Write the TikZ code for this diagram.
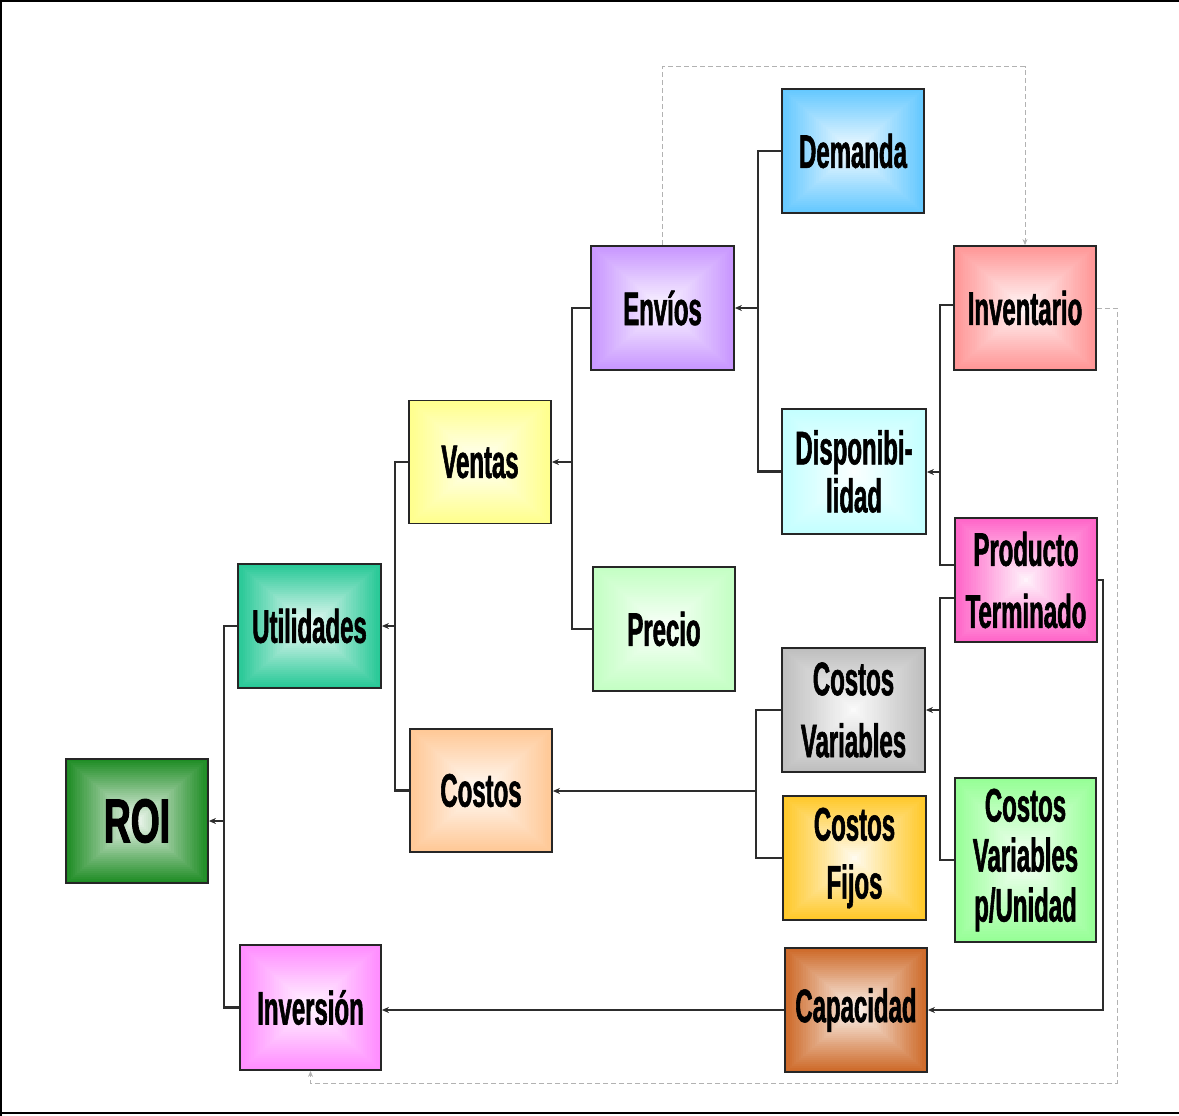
\documentclass[tikz,border=0pt]{standalone}
\usepackage{fontspec}
\newfontfamily\boxfont{Liberation Sans}[FakeStretch=0.51,FakeBold=1.2]
\newfontfamily\roifont{Liberation Sans}[FakeStretch=0.6,FakeBold=1.6]
\usetikzlibrary{arrows.meta,calc}

\definecolor{cRoi}{RGB}{30,140,36}
\definecolor{cUtil}{RGB}{38,200,150}
\definecolor{cVentas}{RGB}{255,255,140}
\definecolor{cCostos}{RGB}{255,200,150}
\definecolor{cInv}{RGB}{255,140,255}
\definecolor{cEnvios}{RGB}{200,150,255}
\definecolor{cPrecio}{RGB}{195,255,195}
\definecolor{cDemanda}{RGB}{100,200,255}
\definecolor{cDispon}{RGB}{195,255,255}
\definecolor{cCVar}{RGB}{190,190,190}
\definecolor{cCFij}{RGB}{255,200,40}
\definecolor{cCapac}{RGB}{205,105,40}
\definecolor{cInvent}{RGB}{255,150,150}
\definecolor{cProd}{RGB}{255,100,200}
\definecolor{cCVpU}{RGB}{150,255,150}
\definecolor{linegray}{RGB}{45,45,45}

\tikzset{
  box/.style={rectangle, draw=black!85, line width=1.8pt,
    minimum width=142pt, minimum height=124pt, inner sep=0pt,
    align=center, text=black,
    font=\boxfont\bfseries\fontsize{47}{62}\selectfont},
  % box filled with a rectangular gradient: colour at the rim, almost white in the middle
  gbox/.style={box, fill=#1,
    path picture={
      \foreach \k in {1,...,30}{
        \pgfmathsetmacro\f{\k/62}
        \pgfmathtruncatemacro\p{\k*92/30}
        \fill[white!\p!#1]
          ($(path picture bounding box.south west)!\f!(path picture bounding box.north east)$)
          rectangle
          ($(path picture bounding box.north east)!\f!(path picture bounding box.south west)$);
      }
    }},
  conn/.style={draw=linegray, line width=2.3pt},
  arr/.style={conn, -{Stealth[length=7pt,width=6pt]}},
  dashlink/.style={draw=black!30, line width=1pt, dash pattern=on 5pt off 3pt},
  dasharr/.style={dashlink, -{Stealth[length=6pt,width=5pt]}}
}

\begin{document}
\begin{tikzpicture}[x=1pt,y=-1pt]
\useasboundingbox (0,0) rectangle (1179,1116);

% outer frame
\draw[line width=2pt] (0,1) -- (1179,1);
\draw[line width=2pt] (1,0) -- (1,1116);
\draw[line width=2pt] (0,1113) -- (1179,1113);

% boxes
\node[gbox=cRoi, font=\roifont\bfseries\fontsize{62}{70}\selectfont] (roi) at (137,821) {ROI};
\node[gbox=cUtil, minimum width=143pt] (util) at (309.5,626) {Utilidades};
\node[gbox=cVentas, minimum height=123pt] (ventas) at (480,462) {Ventas};
\node[gbox=cCostos, minimum height=123pt] (costos) at (481,790.5) {Costos};
\node[gbox=cInv, minimum width=141pt, minimum height=125pt] (inversion) at (310.5,1007.5) {Inversión};
\node[gbox=cEnvios, minimum width=143pt] (envios) at (662.5,308) {Envíos};
\node[gbox=cPrecio] (precio) at (664,629) {Precio};
\node[gbox=cDemanda] (demanda) at (853,151) {Demanda};
\node[gbox=cDispon, minimum width=144pt, minimum height=125pt,
      font=\boxfont\bfseries\fontsize{47}{48}\selectfont] (dispon) at (854,471.5) {Disponibi-\\lidad};
\node[gbox=cCVar, minimum width=143pt] (cvar) at (853.5,710) {Costos\\Variables};
\node[gbox=cCFij, minimum width=143pt,
      font=\boxfont\bfseries\fontsize{47}{58}\selectfont] (cfij) at (854.5,858) {Costos\\Fijos};
\node[gbox=cCapac] (capac) at (856,1010) {Capacidad};
\node[gbox=cInvent] (invent) at (1025,308) {Inventario};
\node[gbox=cProd] (prodt) at (1026,580) {Producto\\Terminado};
\node[gbox=cCVpU, minimum width=141pt, minimum height=164pt,
      font=\boxfont\bfseries\fontsize{47}{50}\selectfont] (cvpu) at (1025.5,860) {Costos\\Variables\\p/Unidad};

% bus junctions
\coordinate (b1) at (224,821);
\coordinate (b2) at (395,626);
\coordinate (b3) at (572,462);
\coordinate (b4) at (758,308);
\coordinate (b5) at (940,472);
\coordinate (b6) at (940,710);
\coordinate (b7) at (756,791);
\coordinate (b8) at (1103,580);
\coordinate (top) at (0,67);
\coordinate (d3) at (1117,1083);

% tree connectors
\draw[conn] (util.west) -| (b1) |- (inversion.west);
\draw[arr] (b1) -- (b1 -| roi.east);

\draw[conn] (ventas.west) -| (b2) |- (costos.west);
\draw[arr] (b2) -- (b2 -| util.east);

\draw[conn] (envios.west) -| (b3) |- (precio.west);
\draw[arr] (b3) -- (b3 -| ventas.east);

\draw[conn] (demanda.west) -| (b4) |- (dispon.west);
\draw[arr] (b4) -- (b4 -| envios.east);

\draw[conn] ([yshift=3pt]invent.west) -| (b5) |- ([yshift=15pt]prodt.west);
\draw[arr] (b5) -- (b5 -| dispon.east);

\draw[conn] ([yshift=-18pt]prodt.west) -| (b6) |- (cvpu.west);
\draw[arr] (b6) -- (b6 -| cvar.east);

\draw[conn] (cvar.west) -| (b7) |- (cfij.west);
\draw[arr] (b7) -- (b7 -| costos.east);

\draw[arr] (capac.west) -- (capac.west -| inversion.east);
\draw[arr] (prodt.east) -- (b8) |- (capac.east);

% dashed feedback links
\draw[dasharr] (envios.north) -- (envios.north |- top) -| (invent.north);
\draw[dasharr] (invent.east) -| (d3) -| (inversion.south);
\end{tikzpicture}
\end{document}
